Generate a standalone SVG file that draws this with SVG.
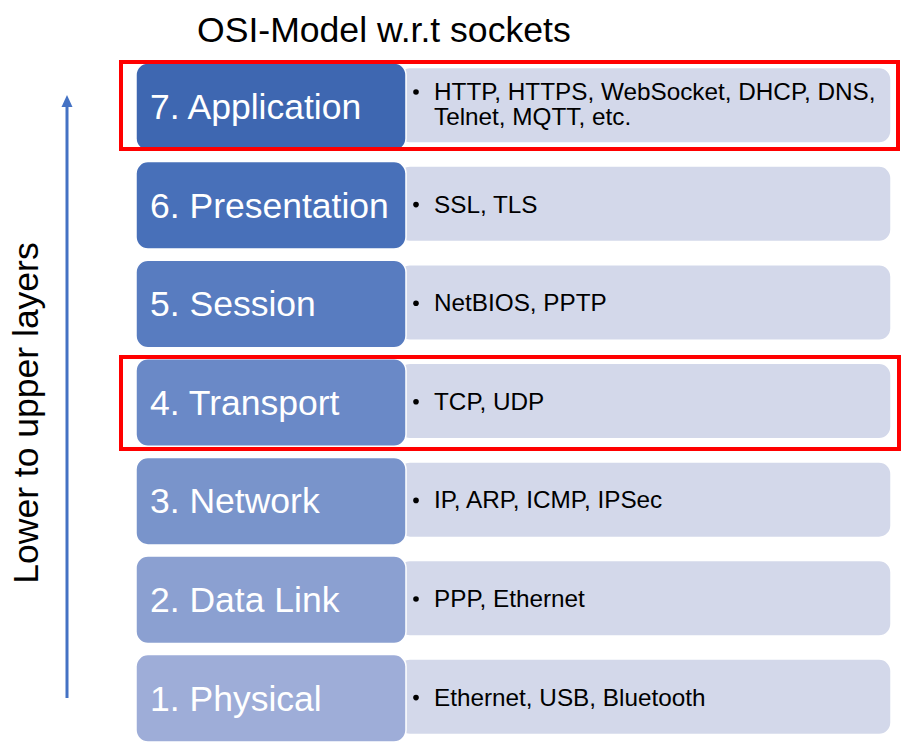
<svg xmlns="http://www.w3.org/2000/svg" width="912" height="752" viewBox="0 0 912 752">
<style>
.lbl{font-family:"Liberation Sans",Arial,sans-serif;font-size:35.5px;fill:#ffffff}
.txt{font-family:"Liberation Sans",Arial,sans-serif;font-size:24.3px;fill:#000000}
.rb{fill:#D3D8EA;stroke:#ffffff;stroke-width:1.5}
.lb{stroke:#ffffff;stroke-width:1.5}
.bul{fill:#000000}
.hl{fill:none;stroke:#FF0000;stroke-width:4}
</style>
<rect width="912" height="752" fill="#ffffff"/>
<text x="197" y="42" font-family="Liberation Sans,Arial,sans-serif" font-size="35.6" fill="#000000">OSI-Model w.r.t sockets</text>
<g id="connectors">
<line x1="67" y1="698" x2="67" y2="104" stroke="#4472C4" stroke-width="3"/>
<polygon points="67,95 61.5,107 72.5,107" fill="#4472C4"/>
</g>
<text transform="translate(37.5,413) rotate(-90)" text-anchor="middle" font-family="Liberation Sans,Arial,sans-serif" font-size="35.5" fill="#000000">Lower to upper layers</text>

<g id="layer7">
<rect class="rb" x="398" y="67.5" width="493" height="75.5" rx="12"/>
<rect class="lb" x="136" y="63" width="270" height="87.5" rx="12" fill="#3E67B1"/>
<text class="lbl" x="150" y="119">7. Application</text>
<circle class="bul" cx="416" cy="92" r="2.8"/>
<text class="txt" x="434" y="100">HTTP, HTTPS, WebSocket, DHCP, DNS,</text>
<text class="txt" x="434" y="125">Telnet, MQTT, etc.</text>
</g>
<g id="layer6">
<rect class="rb" x="398" y="166.1" width="493" height="75.5" rx="12"/>
<rect class="lb" x="136" y="161.6" width="270" height="87.5" rx="12" fill="#4870B9"/>
<text class="lbl" x="150" y="217.6">6. Presentation</text>
<circle class="bul" cx="416" cy="204.6" r="2.8"/>
<text class="txt" x="434" y="212.6">SSL, TLS</text>
</g>
<g id="layer5">
<rect class="rb" x="398" y="264.7" width="493" height="75.5" rx="12"/>
<rect class="lb" x="136" y="260.2" width="270" height="87.5" rx="12" fill="#587CC0"/>
<text class="lbl" x="150" y="316.2">5. Session</text>
<circle class="bul" cx="416" cy="303.2" r="2.8"/>
<text class="txt" x="434" y="311.2">NetBIOS, PPTP</text>
</g>
<g id="layer4">
<rect class="rb" x="398" y="363.3" width="493" height="75.5" rx="12"/>
<rect class="lb" x="136" y="358.8" width="270" height="87.5" rx="12" fill="#6A89C7"/>
<text class="lbl" x="150" y="414.8">4. Transport</text>
<circle class="bul" cx="416" cy="401.8" r="2.8"/>
<text class="txt" x="434" y="409.8">TCP, UDP</text>
</g>
<g id="layer3">
<rect class="rb" x="398" y="461.9" width="493" height="75.5" rx="12"/>
<rect class="lb" x="136" y="457.4" width="270" height="87.5" rx="12" fill="#7994CB"/>
<text class="lbl" x="150" y="513.4">3. Network</text>
<circle class="bul" cx="416" cy="500.4" r="2.8"/>
<text class="txt" x="434" y="508.4">IP, ARP, ICMP, IPSec</text>
</g>
<g id="layer2">
<rect class="rb" x="398" y="560.5" width="493" height="75.5" rx="12"/>
<rect class="lb" x="136" y="556" width="270" height="87.5" rx="12" fill="#8BA0D1"/>
<text class="lbl" x="150" y="612">2. Data Link</text>
<circle class="bul" cx="416" cy="599" r="2.8"/>
<text class="txt" x="434" y="607">PPP, Ethernet</text>
</g>
<g id="layer1">
<rect class="rb" x="398" y="659.1" width="493" height="75.5" rx="12"/>
<rect class="lb" x="136" y="654.6" width="270" height="87.5" rx="12" fill="#9EADD8"/>
<text class="lbl" x="150" y="710.6">1. Physical</text>
<circle class="bul" cx="416" cy="697.6" r="2.8"/>
<text class="txt" x="434" y="705.6">Ethernet, USB, Bluetooth</text>
</g>
<g id="highlights">
<rect class="hl" x="121" y="62" width="777" height="87"/>
<rect class="hl" x="121" y="357" width="778" height="92"/>
</g>
</svg>
